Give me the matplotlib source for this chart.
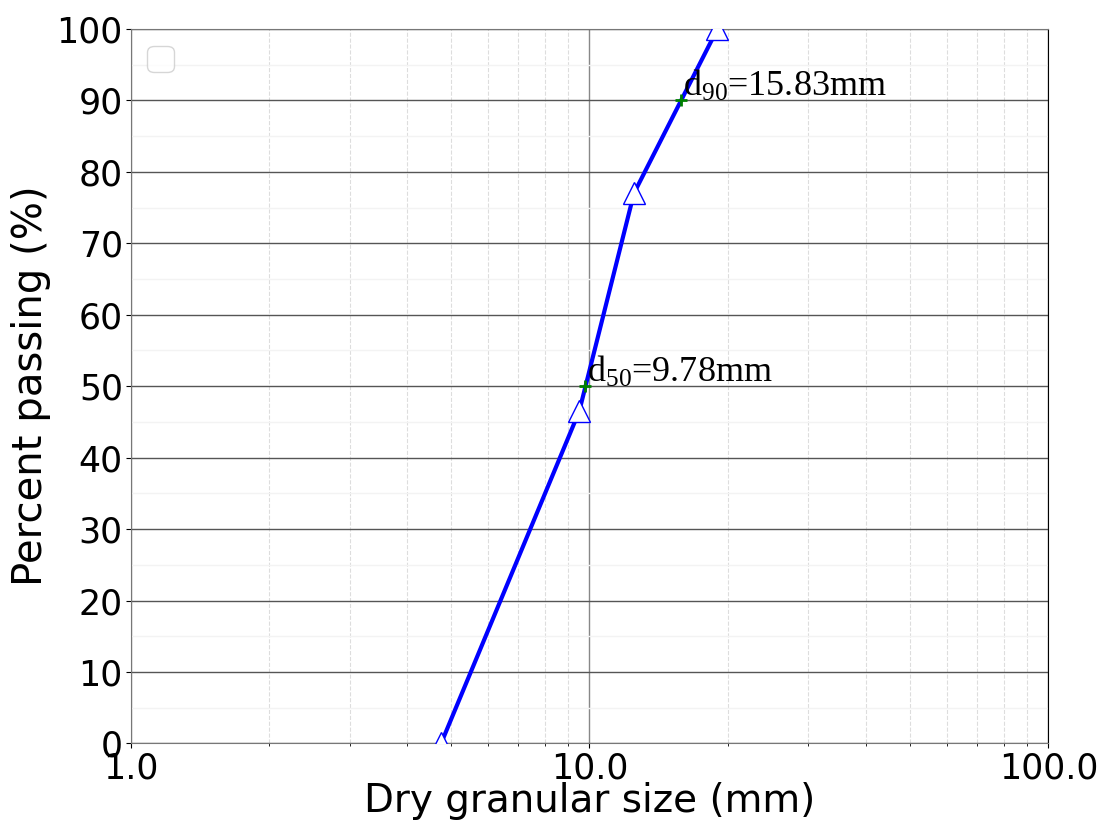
import numpy as np
import matplotlib.pyplot as plt
from matplotlib.ticker import FixedLocator, FuncFormatter

plt.rcParams['mathtext.fontset'] = 'custom'
plt.rcParams['mathtext.rm'] = 'Liberation Serif'
plt.rcParams['mathtext.it'] = 'Liberation Serif:italic'

# sieve data
sieve_size = [4.75, 9.5, 12.5, 19.0]
passing = [0.0, 46.5, 77.0, 100.0]

# characteristic sizes
d_labels = [r'd$_{\mathrm{50}}$=9.78mm', r'd$_{\mathrm{90}}$=15.83mm']
d_sizes = [9.78, 15.83]
d_pct = [50, 90]

fig, ax = plt.subplots(figsize=(11.06, 8.26), dpi=100)
fig.subplots_adjust(left=0.118, right=0.948, top=0.965, bottom=0.1)

ax.plot(sieve_size, passing, color='blue', lw=3, zorder=3)
ax.plot(sieve_size, passing, ls='none', marker='^', ms=16, mfc='white', mec='blue', mew=1, zorder=4)
ax.plot(d_sizes, d_pct, ls='none', marker='+', ms=8, mew=2, color='green', zorder=5)
for lab, xs, yp in zip(d_labels, d_sizes, d_pct):
    ax.text(xs * 1.01, yp + 0.6, lab, fontsize=26, family='Liberation Serif', va='baseline', ha='left', zorder=6)

ax.set_xscale('log')
ax.set_xlim(1, 100)
ax.set_ylim(0, 100)
ax.xaxis.set_major_locator(FixedLocator([1, 10, 100]))
ax.xaxis.set_major_formatter(FuncFormatter(lambda v, p: '%.1f' % v))
ax.set_yticks(np.arange(0, 101, 10))
ax.set_yticks(np.arange(5, 100, 10), minor=True)
ax.tick_params(axis='both', which='major', labelsize=25, pad=2)
ax.tick_params(axis='y', which='minor', length=0)

ax.grid(True, which='major', axis='y', color='#555555', lw=1)
ax.grid(True, which='minor', axis='y', color='#f3f3f3', lw=1)
ax.grid(True, which='major', axis='x', color='#888888', lw=1)
ax.grid(True, which='minor', axis='x', color='#dddddd', lw=0.8, ls='--')

for s in ['left', 'bottom', 'top']:
    ax.spines[s].set_color('#777777')
ax.spines['right'].set_color('black')

ax.set_xlabel('Dry granular size (mm)', fontsize=28, labelpad=-2)
ax.set_ylabel('Percent passing (%)', fontsize=29, labelpad=4)
ax.legend(loc='upper left', fontsize=24)

fig.savefig('out.png')
